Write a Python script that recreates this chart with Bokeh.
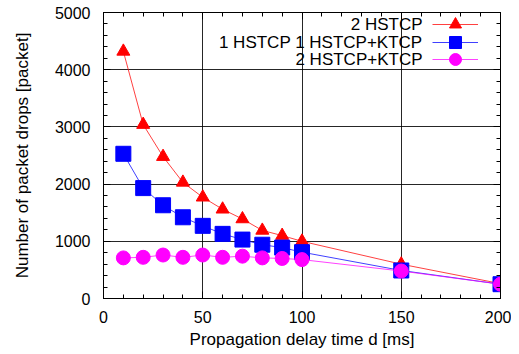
from bokeh.plotting import figure
from bokeh.models import (Range1d, SingleIntervalTicker, LinearAxis, Legend,
                          LegendItem, Label)
from bokeh.embed import file_html
from bokeh.resources import INLINE

# ---- data ----
delay_ms = [10, 20, 30, 40, 50, 60, 70, 80, 90, 100, 150, 200]
drops_2hstcp = [4320, 3040, 2480, 2030, 1770, 1560, 1390, 1190, 1100, 1000, 600, 260]
drops_1hstcp_1ktcp = [2530, 1930, 1630, 1420, 1270, 1130, 1030, 940, 890, 810, 490, 250]
drops_2ktcp = [710, 720, 760, 720, 760, 720, 740, 710, 700, 680, 480, 250]
series_labels = ["2 HSTCP", "1 HSTCP 1 HSTCP+KTCP", "2 HSTCP+KTCP"]
x_label = "Propagation delay time d [ms]"
y_label = "Number of packet drops [packet]"

FONT = "Liberation Sans"

p = figure(width=511, height=352, x_range=Range1d(0, 200), y_range=Range1d(0, 5000),
           output_backend="svg", toolbar_location=None,
           min_border_left=103, min_border_right=11, min_border_top=12, min_border_bottom=54)
p.background_fill_color = "white"
p.border_fill_color = "white"
p.outline_line_color = "black"
p.outline_line_width = 1

xt = SingleIntervalTicker(interval=50, num_minor_ticks=5)
yt = SingleIntervalTicker(interval=1000, num_minor_ticks=5)
p.xaxis.ticker = xt
p.yaxis.ticker = yt

for ax in (p.xaxis[0], p.yaxis[0]):
    ax.axis_line_color = "black"
    ax.major_tick_in = 7
    ax.major_tick_out = 0
    ax.minor_tick_in = 4
    ax.minor_tick_out = 0
    ax.major_tick_line_color = "black"
    ax.minor_tick_line_color = "black"
    ax.major_label_text_font = FONT
    ax.major_label_text_font_size = "16px"
    ax.major_label_text_color = "black"
    ax.axis_label_text_font = FONT
    ax.axis_label_text_font_size = "17px"
    ax.axis_label_text_font_style = "normal"
    ax.axis_label_text_color = "black"

p.xaxis.axis_label = x_label
p.yaxis.axis_label = y_label
p.xaxis.major_label_standoff = 12
p.xaxis.axis_label_standoff = 4
p.yaxis.major_label_standoff = 13
p.yaxis.axis_label_standoff = 20

# mirrored axes (top / right) with inward ticks only, labels not drawn
for loc, tk in (("above", xt), ("right", yt)):
    a = LinearAxis(ticker=SingleIntervalTicker(interval=tk.interval, num_minor_ticks=5))
    a.major_tick_in = 7
    a.major_tick_out = 0
    a.minor_tick_in = 4
    a.minor_tick_out = 0
    a.major_label_text_font_size = "1px"
    a.major_label_text_color = None
    a.major_label_standoff = 0
    a.axis_line_color = "black"
    a.major_tick_line_color = "black"
    a.minor_tick_line_color = "black"
    p.add_layout(a, loc)

p.xgrid.grid_line_color = "black"
p.ygrid.grid_line_color = "black"
p.xgrid.grid_line_width = 1
p.ygrid.grid_line_width = 1
p.xgrid.grid_line_alpha = 0.85
p.ygrid.grid_line_alpha = 0.85

colors = ["#ff0000", "#0000ff", "#ff00ff"]
markers = ["triangle", "square", "circle"]
sizes = [13, 15, 14]
series = [drops_2hstcp, drops_1hstcp_1ktcp, drops_2ktcp]

# legend rows: glyph sample to the right of right-aligned text (gnuplot style)
row_bottom = [259, 241, 224]   # screen px from frame bottom
row_center = [274, 256, 239]
for ys, c, m, s, lab, rb, rc in zip(series, colors, markers, sizes, series_labels,
                                    row_bottom, row_center):
    ln = p.line(delay_ms, ys, line_color=c, line_width=1, line_alpha=0.75)
    sc = p.scatter(delay_ms, ys, marker=m, size=s, fill_color=c, line_color=c)
    leg = Legend(items=[LegendItem(label=" ", renderers=[ln, sc])], location=(329, rb),
                 padding=0, margin=0, spacing=0, glyph_width=46, glyph_height=30,
                 label_width=0, label_height=0, label_standoff=0,
                 label_text_font_size="1px", border_line_color=None,
                 background_fill_alpha=0)
    p.add_layout(leg)
    p.add_layout(Label(x=319, y=rc, x_units="screen", y_units="screen",
                       text=lab, text_align="right", text_baseline="middle",
                       text_font=FONT, text_font_size="17px", text_color="black"))

open("out.html", "w").write(file_html(p, INLINE))
